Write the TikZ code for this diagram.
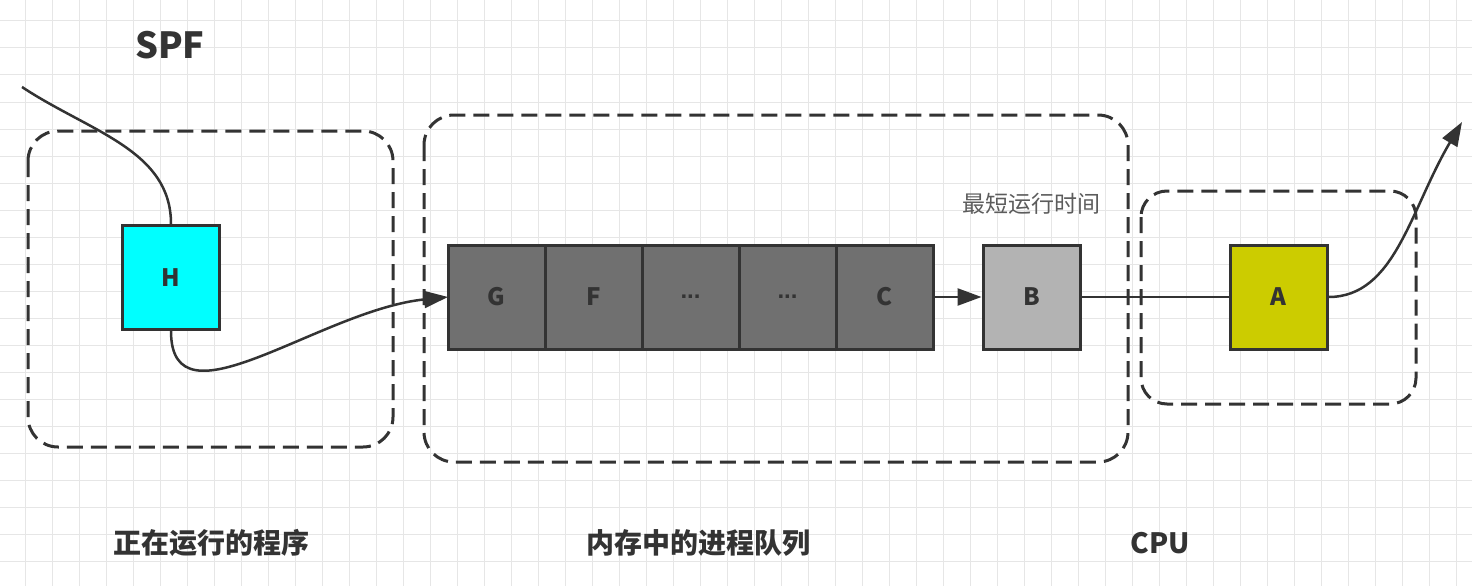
\documentclass[tikz,border=0pt]{standalone}
\usepackage{fontspec}
\setmainfont{Noto Sans CJK SC}
\newfontfamily\latinfont{Liberation Sans}
\usepackage{tikz}
\usetikzlibrary{arrows.meta}
\usetikzlibrary{positioning}
\usepackage{xcolor}
\definecolor{ink}{HTML}{333333}
\definecolor{gridgray}{HTML}{E6E6E6}
\definecolor{runcolor}{HTML}{00FFFF}
\definecolor{queuecolor}{HTML}{707070}
\definecolor{nextcolor}{HTML}{B3B3B3}
\definecolor{cpucolor}{HTML}{CCCC00}
\tikzset{
    proc/.style={
        draw=ink,
        line width=3pt,
        minimum width=97pt,
        minimum height=104pt,
        inner sep=0pt,
        text=ink,
        font=\bfseries\fontsize{24}{24}\selectfont
    },
    cell/.style={
        proc,
        fill=queuecolor,
        outer sep=0pt
    },
    region/.style={
        draw=ink,
        line width=3pt,
        dash pattern=on 16pt off 8pt,
        rounded corners=30pt
    },
    flow/.style={
        draw=ink,
        line width=2.5pt
    },
    tip/.style={
        -{Triangle[length=24pt, width=17pt]}
    },
    caption/.style={
        text=ink,
        font=\bfseries\fontsize{28}{28}\selectfont
    }
}

\begin{document}
\begin{tikzpicture}[x=1pt, y=-1pt]
  \useasboundingbox (0,0) rectangle (1472,586);
  \fill[white] (0,0) rectangle (1472,586);

  % Background grid
  \foreach \gx in {25,52,...,1456}
    \draw[gridgray, line width=1pt] (\gx,0) -- (\gx,586);
  \foreach \gy in {21,48,...,561}
    \draw[gridgray, line width=1pt] (0,\gy) -- (1472,\gy);

  % Dashed regions
  \draw[region] (28,131) rectangle (393,447);
  \draw[region] (424,115) rectangle (1128,462);
  \draw[region, rounded corners=26pt] (1141,191) rectangle (1416,404);

  % Processes
  \node[proc, fill=runcolor] (H) at (171,277.5) {H};
  \node[cell] (G) at (496.5,297) {G};
  \node[cell, right=0pt of G] (F) {F};
  \node[cell, right=0pt of F] (dots1) {\latinfont ...};
  \node[cell, right=0pt of dots1] (dots2) {\latinfont ...};
  \node[cell, right=0pt of dots2] (C) {C};
  \node[proc, fill=nextcolor] (B) at (1031.5,297) {B};
  \node[proc, fill=cpucolor] (A) at (1278.5,297) {A};

  % Free ends of the flow
  \coordinate (inlet) at (22,87);
  \coordinate (outlet) at (1462,122);

  % Flow of the processes
  \draw[flow] (inlet) .. controls (90,132) and (171,150) .. (H.north);
  \draw[flow, tip] (H.south) .. controls (171,432) and (320,310) .. (G.west);
  \draw[flow, tip] (C.east) -- (B.west);
  \draw[flow] (B.east) -- (A.west);
  \draw[flow, tip] (A.east) .. controls (1395,297) and (1410,210) .. (outlet);

  % Texts
  \node[text=ink, font=\bfseries\fontsize{36}{36}\selectfont] (title) at (170,45) {SPF};
  \node[text=ink!80, font=\fontsize{23}{23}\selectfont] (hint) at (1031,204) {最短运行时间};
  \node[caption] (runlabel) at (211,543) {正在运行的程序};
  \node[caption] (queuelabel) at (698,543) {内存中的进程队列};
  \node[caption] (cpulabel) at (1160,543) {CPU};
\end{tikzpicture}
\end{document}
